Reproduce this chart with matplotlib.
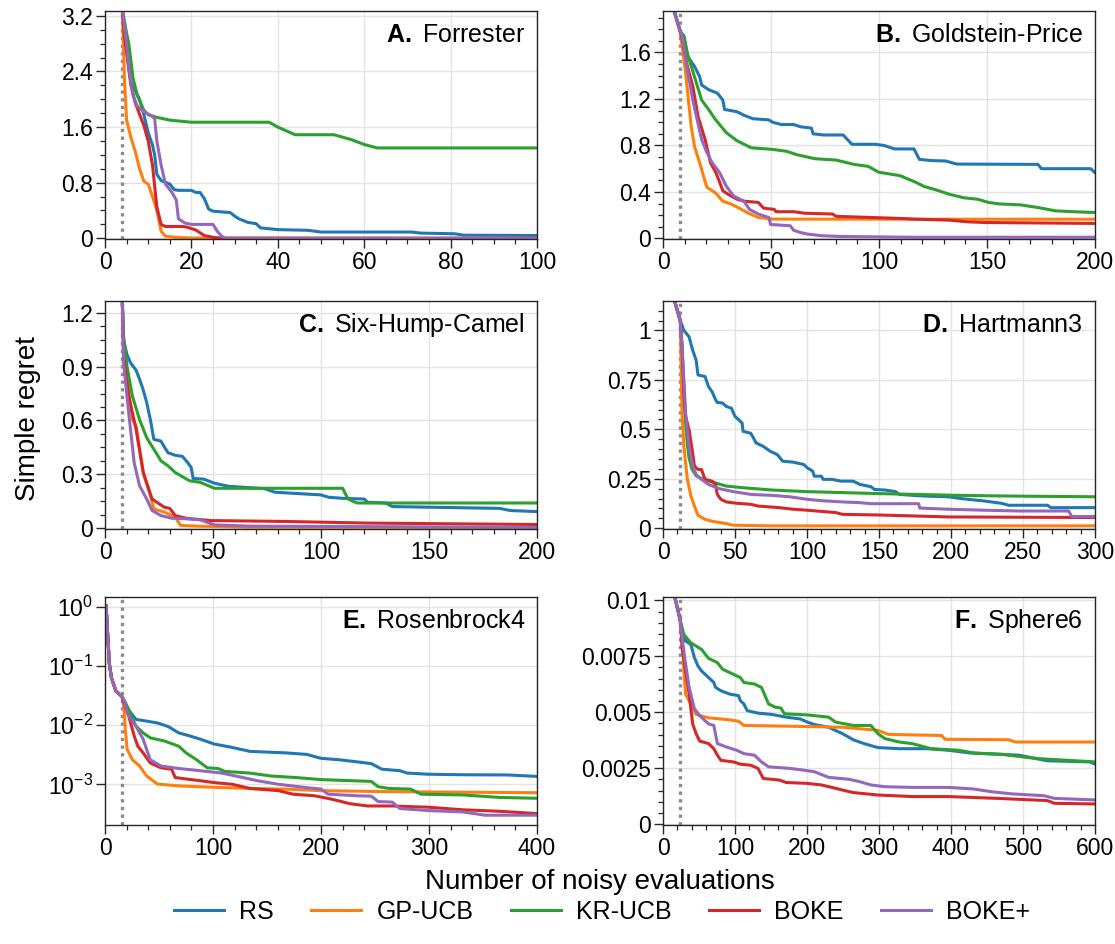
import matplotlib
matplotlib.use('Agg')
import matplotlib.pyplot as plt
from matplotlib.ticker import MultipleLocator, FuncFormatter, NullLocator, FixedLocator

plt.rcParams['font.family'] = ['Liberation Sans', 'DejaVu Sans']
plt.rcParams['mathtext.fontset'] = 'custom'
plt.rcParams['mathtext.rm'] = 'Liberation Sans'
plt.rcParams['mathtext.it'] = 'Liberation Sans:italic'
plt.rcParams['mathtext.bf'] = 'Liberation Sans:bold'

# ---------------- data ----------------
methods = ['RS', 'GP-UCB', 'KR-UCB', 'BOKE', 'BOKE+']
colors = ['#1f77b4', '#ff7f0e', '#2ca02c', '#d62728', '#9467bd']

# A. Forrester
A_RS_x = [1, 4, 4.5, 6, 8, 9, 10, 11, 11.5, 12, 13, 15, 16, 17, 20, 21, 22, 23, 24, 25, 29, 30, 31, 33, 35, 36, 40, 47, 50, 71, 73, 81, 83, 100]
A_RS_y = [6.0, 3.3, 2.95, 2.25, 2.0, 1.78, 1.52, 1.34, 1.2, 0.92, 0.83, 0.78, 0.70, 0.69, 0.69, 0.66, 0.66, 0.57, 0.42, 0.39, 0.37, 0.32, 0.28, 0.23, 0.21, 0.15, 0.125, 0.115, 0.09, 0.09, 0.075, 0.065, 0.045, 0.04]
A_GP_x = [1, 4, 4.5, 5, 6, 7, 8, 9, 10, 11, 12, 13, 14, 16, 20, 100]
A_GP_y = [6.0, 3.3, 2.3, 1.7, 1.45, 1.25, 1.0, 0.82, 0.78, 0.6, 0.4, 0.1, 0.03, 0.015, 0.005, 0.0]
A_KR_x = [1, 4, 5, 5.5, 6.5, 7.5, 9, 10, 12, 15, 20, 38, 40, 44, 53, 57, 60, 63, 100]
A_KR_y = [6.0, 3.3, 2.95, 2.8, 2.3, 2.05, 1.84, 1.78, 1.74, 1.70, 1.67, 1.67, 1.6, 1.49, 1.49, 1.42, 1.35, 1.30, 1.30]
A_BK_x = [1, 4, 4.5, 6, 7, 9, 10, 11, 11.5, 12, 13, 14, 18, 19, 21, 23, 25, 27, 100]
A_BK_y = [6.0, 3.3, 2.9, 2.2, 1.95, 1.62, 1.4, 1.05, 0.75, 0.45, 0.2, 0.17, 0.17, 0.16, 0.12, 0.04, 0.015, 0.0, 0.0]
A_BP_x = [1, 4, 5, 5.5, 6.5, 7.5, 9, 11, 11.5, 12, 13, 14, 15.5, 16.5, 17, 18.5, 20, 25, 26, 27, 28, 100]
A_BP_y = [6.0, 3.3, 2.8, 2.45, 2.05, 1.9, 1.82, 1.75, 1.72, 1.4, 1.05, 0.78, 0.66, 0.55, 0.28, 0.22, 0.2, 0.2, 0.1, 0.03, 0.0, 0.0]

# B. Goldstein-Price
B_RS_x = [1, 4, 8, 9.7, 11.3, 14.6, 17, 17.9, 21.1, 25.2, 27.7, 28.5, 34.3, 37.5, 41.6, 49, 50.7, 54.8, 60.5, 63.8, 68.7, 69.5, 74.4, 83.4, 87.5, 98.2, 102.3, 107.2, 116.2, 118.7, 124.4, 131, 135.9, 173.6, 175.2, 198, 200]
B_RS_y = [2.2, 2.03, 1.78, 1.74, 1.57, 1.48, 1.39, 1.32, 1.28, 1.25, 1.19, 1.11, 1.09, 1.06, 1.03, 1.02, 1.0, 0.98, 0.98, 0.96, 0.95, 0.90, 0.89, 0.89, 0.81, 0.81, 0.80, 0.77, 0.77, 0.68, 0.67, 0.666, 0.64, 0.637, 0.60, 0.60, 0.566]
B_GP_x = [1, 4, 8, 8.9, 10.5, 13, 14.6, 17, 18.7, 20.3, 22, 24.4, 27.7, 31, 34.3, 39.2, 44.1, 50.7, 200]
B_GP_y = [2.2, 2.03, 1.78, 1.65, 1.42, 0.97, 0.79, 0.65, 0.54, 0.44, 0.42, 0.39, 0.32, 0.30, 0.27, 0.22, 0.18, 0.166, 0.165]
B_KR_x = [1, 4, 8, 9.7, 11.3, 14.6, 17.9, 21.1, 24.4, 29.3, 34.3, 40.8, 50.7, 57.2, 62.1, 70.3, 80.2, 88.4, 95, 99.8, 109.7, 116.2, 121.1, 126, 132.6, 139.2, 145.7, 150.6, 155.6, 165.4, 173.6, 181.8, 190, 200]
B_KR_y = [2.2, 2.03, 1.78, 1.74, 1.59, 1.39, 1.19, 1.11, 1.02, 0.91, 0.84, 0.78, 0.766, 0.75, 0.72, 0.686, 0.674, 0.637, 0.62, 0.57, 0.54, 0.49, 0.446, 0.42, 0.38, 0.35, 0.337, 0.31, 0.297, 0.289, 0.266, 0.237, 0.23, 0.223]
B_BK_x = [1, 4, 8, 8.9, 11.3, 13.8, 16.2, 19.5, 22, 24.4, 26.1, 27.7, 31, 34.3, 37.5, 44.1, 46.6, 51.5, 52.3, 60.5, 65.4, 78.5, 80.2, 96.6, 111.3, 116, 132.6, 141, 149, 200]
B_BK_y = [2.2, 2.03, 1.78, 1.71, 1.48, 1.31, 1.05, 0.85, 0.65, 0.57, 0.49, 0.41, 0.37, 0.337, 0.32, 0.31, 0.26, 0.25, 0.23, 0.23, 0.217, 0.21, 0.19, 0.18, 0.171, 0.166, 0.157, 0.143, 0.137, 0.129]
B_BP_x = [1, 4, 8, 8.9, 11.3, 13.8, 16.2, 17.9, 20.3, 22.8, 26.1, 29.3, 32.6, 37.5, 40, 44.1, 49, 49.8, 58.9, 60.5, 63.8, 67, 73.6, 81.8, 116, 200]
B_BP_y = [2.2, 2.03, 1.78, 1.74, 1.45, 1.19, 0.99, 0.85, 0.74, 0.65, 0.57, 0.45, 0.366, 0.32, 0.25, 0.21, 0.18, 0.12, 0.109, 0.07, 0.05, 0.037, 0.023, 0.017, 0.01, 0.01]

# C. Six-Hump-Camel
C_RS_x = [1, 8, 8.6, 10.2, 11.9, 14.4, 16, 17.7, 19.3, 21, 22.6, 25.9, 27.6, 29.2, 32.5, 35.8, 38.3, 39.9, 40.8, 45.7, 50.7, 57.3, 73.8, 78.7, 100, 103.5, 110, 120, 121.6, 130, 133, 182.7, 187.6, 200]
C_RS_y = [2.5, 1.27, 1.05, 0.965, 0.92, 0.88, 0.83, 0.77, 0.70, 0.605, 0.495, 0.485, 0.45, 0.42, 0.406, 0.40, 0.365, 0.338, 0.277, 0.273, 0.25, 0.233, 0.22, 0.20, 0.185, 0.172, 0.166, 0.162, 0.144, 0.14, 0.12, 0.11, 0.098, 0.092]
C_GP_x = [1, 8, 8.6, 10.2, 12.7, 14.4, 17.7, 21, 22.6, 27.6, 32.5, 35, 42.4, 67, 200]
C_GP_y = [2.5, 1.27, 1.01, 0.83, 0.605, 0.57, 0.31, 0.18, 0.107, 0.089, 0.061, 0.015, 0.011, 0.005, 0.003]
C_KR_x = [1, 8, 8.6, 10.2, 12.7, 16, 19.3, 22.6, 25.9, 29.2, 32.5, 39.1, 44.1, 50.7, 110, 112.5, 116.7, 200]
C_KR_y = [2.5, 1.27, 1.07, 0.90, 0.735, 0.605, 0.504, 0.44, 0.375, 0.347, 0.31, 0.264, 0.255, 0.222, 0.222, 0.162, 0.14, 0.14]
C_BK_x = [1, 8, 8.6, 11, 14.4, 17.7, 21.8, 25.1, 27.6, 30, 32.5, 37.5, 49, 83.7, 121.6, 200]
C_BK_y = [2.5, 1.27, 0.956, 0.735, 0.55, 0.31, 0.162, 0.135, 0.116, 0.11, 0.07, 0.055, 0.042, 0.037, 0.028, 0.02]
C_BP_x = [1, 8, 8.6, 11, 13.5, 16, 19.3, 21.8, 25.9, 30.9, 37.5, 44, 50.7, 67, 200]
C_BP_y = [2.5, 1.27, 0.92, 0.64, 0.365, 0.236, 0.162, 0.098, 0.07, 0.055, 0.052, 0.046, 0.018, 0.011, 0.004]

# D. Hartmann3
D_RS_x = [1, 8, 12, 14.5, 18.1, 20.6, 23, 24.3, 29.2, 31.6, 34.1, 36.5, 37.7, 41.4, 43.9, 47.5, 50, 52.5, 54.9, 55.6, 61, 64.7, 69.6, 74.5, 79.4, 83.1, 90.4, 97.8, 100.2, 103.9, 105.1, 110, 111.3, 117.4, 123.5, 132, 137, 144.4, 146.8, 154.2, 161.5, 164, 173.8, 181, 198.3, 208, 222.8, 235, 240, 267, 269.4, 300]
D_RS_y = [1.33, 1.15, 1.05, 1.0, 0.968, 0.90, 0.85, 0.775, 0.767, 0.716, 0.69, 0.65, 0.636, 0.633, 0.616, 0.607, 0.565, 0.549, 0.532, 0.49, 0.48, 0.431, 0.414, 0.389, 0.372, 0.339, 0.334, 0.322, 0.305, 0.289, 0.263, 0.263, 0.247, 0.247, 0.238, 0.238, 0.221, 0.21, 0.196, 0.193, 0.185, 0.171, 0.166, 0.163, 0.159, 0.149, 0.138, 0.126, 0.116, 0.116, 0.104, 0.104]
D_GP_x = [1, 8, 12, 13.2, 14.5, 16.9, 19.4, 21.8, 24.3, 29.2, 34.1, 43.9, 48.8, 75.7, 300]
D_GP_y = [1.33, 1.15, 1.05, 0.58, 0.414, 0.247, 0.163, 0.112, 0.065, 0.045, 0.035, 0.0235, 0.015, 0.012, 0.012]
D_KR_x = [1, 8, 12, 13, 14, 15, 16, 17, 18, 20, 23, 27, 32, 44, 55, 76, 100, 125, 150, 175, 200, 225, 250, 300]
D_KR_y = [1.33, 1.15, 1.05, 0.95, 0.8, 0.62, 0.5, 0.42, 0.36, 0.3, 0.265, 0.25, 0.238, 0.213, 0.205, 0.193, 0.185, 0.18, 0.175, 0.171, 0.167, 0.164, 0.162, 0.159]
D_BK_x = [1, 8, 12, 13.2, 14.5, 15.7, 18.1, 20.6, 21.8, 24.3, 26.7, 29.2, 34.1, 36.5, 37.7, 40.2, 43.9, 51.2, 61, 65.9, 80.6, 90.4, 100.2, 119.9, 124.8, 149, 173.8, 198, 300]
D_BK_y = [1.33, 1.15, 1.05, 0.918, 0.683, 0.565, 0.498, 0.38, 0.314, 0.297, 0.297, 0.247, 0.238, 0.221, 0.171, 0.146, 0.133, 0.126, 0.121, 0.112, 0.104, 0.096, 0.091, 0.079, 0.07, 0.067, 0.062, 0.057, 0.054]
D_BP_x = [1, 8, 12, 13.2, 14.5, 15.7, 18.1, 20.6, 23, 26.7, 31.6, 39, 48.8, 61, 75.7, 88, 100.2, 112.5, 124.8, 137, 144.4, 177.5, 178.3, 198, 223, 247.5, 281.6, 284, 300]
D_BP_y = [1.33, 1.15, 1.05, 0.918, 0.75, 0.582, 0.414, 0.314, 0.272, 0.247, 0.221, 0.2, 0.185, 0.171, 0.166, 0.159, 0.146, 0.138, 0.133, 0.129, 0.124, 0.124, 0.102, 0.096, 0.091, 0.087, 0.087, 0.059, 0.059]

# E. Rosenbrock4 (log scale)
E_RS_x = [1, 4, 6, 10, 16, 22, 28.7, 38.6, 48.5, 58.4, 68.3, 78.2, 88.1, 101, 117.8, 134.3, 167.3, 187, 200, 216.8, 233, 246.5, 256.4, 273, 279.5, 299.3, 332, 372, 400]
E_RS_y = [1.05, 0.11, 0.063, 0.038, 0.03, 0.018, 0.0125, 0.0117, 0.0109, 0.0095, 0.0074, 0.0066, 0.0058, 0.0048, 0.0042, 0.0036, 0.0034, 0.0032, 0.00275, 0.0026, 0.0024, 0.00224, 0.0018, 0.0017, 0.00155, 0.00148, 0.00145, 0.00144, 0.00136]
E_GP_x = [1, 4, 6, 10, 16, 17.2, 18.8, 20.5, 25.4, 32, 38.6, 48.5, 68.3, 101, 134.3, 167.3, 200, 266, 400]
E_GP_y = [1.05, 0.11, 0.063, 0.038, 0.03, 0.024, 0.0085, 0.0039, 0.0026, 0.00204, 0.00138, 0.00101, 0.00094, 0.00089, 0.00085, 0.00083, 0.00078, 0.00075, 0.00072]
E_KR_x = [1, 4, 6, 10, 16, 18.8, 22, 28.7, 35.3, 41.9, 55, 68.3, 75, 84.8, 94.7, 104.6, 111, 134, 154, 177, 200, 246.5, 253, 263, 282.8, 292.7, 332, 365, 400]
E_KR_y = [1.05, 0.11, 0.063, 0.038, 0.03, 0.024, 0.018, 0.0096, 0.0074, 0.0061, 0.0054, 0.0044, 0.0034, 0.0026, 0.0019, 0.00185, 0.00165, 0.00155, 0.00138, 0.0013, 0.0012, 0.00112, 0.00091, 0.00085, 0.00083, 0.00068, 0.00066, 0.0006, 0.00058]
E_BK_x = [1, 4, 6, 10, 16, 17.2, 22, 27, 30.4, 35.3, 41.9, 51.8, 61.7, 65, 75, 88, 101, 117.8, 134.3, 160.7, 174, 194, 210, 226.7, 243.2, 266, 299, 332, 365, 400]
E_BK_y = [1.05, 0.11, 0.063, 0.038, 0.03, 0.024, 0.0142, 0.0066, 0.0044, 0.0034, 0.0023, 0.0019, 0.0018, 0.0013, 0.00123, 0.00115, 0.00107, 0.001, 0.00085, 0.00078, 0.00068, 0.00064, 0.00056, 0.00047, 0.00043, 0.00043, 0.00041, 0.00037, 0.00035, 0.00032]
E_BP_x = [1, 4, 6, 10, 16, 17.2, 22, 28.7, 35.3, 41.9, 51.8, 68.3, 88, 108, 127.7, 141, 160.7, 183.8, 200, 206.6, 220, 233, 246.5, 253, 266, 273, 299, 332, 352, 400]
E_BP_y = [1.05, 0.11, 0.063, 0.038, 0.03, 0.027, 0.0142, 0.0096, 0.0058, 0.0026, 0.00204, 0.00185, 0.0017, 0.00155, 0.0013, 0.00115, 0.001, 0.00089, 0.00083, 0.00068, 0.00066, 0.00064, 0.00063, 0.00051, 0.0005, 0.00039, 0.00036, 0.00034, 0.0003, 0.0003]

# F. Sphere6
F_RS_x = [1, 16, 24, 26.5, 31.4, 38.7, 43.6, 48.5, 53.4, 63.2, 70.6, 73, 80.4, 92.6, 104.9, 107.4, 112.3, 117, 131.9, 151.5, 171, 190.7, 200.5, 210.3, 230, 249.5, 264.2, 279, 298.5, 328, 367, 396.6, 426, 494.6, 533.8, 592.6, 600]
F_RS_y = [0.0123, 0.0102, 0.0091, 0.00848, 0.00818, 0.00803, 0.00744, 0.00707, 0.00685, 0.00655, 0.00633, 0.00611, 0.00596, 0.00581, 0.00574, 0.00552, 0.00537, 0.00507, 0.00496, 0.0049, 0.00478, 0.0047, 0.00456, 0.00445, 0.00433, 0.00404, 0.00377, 0.0036, 0.00342, 0.00337, 0.00337, 0.0033, 0.00318, 0.00308, 0.00283, 0.00278, 0.00268]
F_GP_x = [1, 16, 24, 26.5, 28.9, 31.4, 38.7, 46, 63.2, 92.6, 104.9, 112.3, 200.5, 249.5, 298.5, 313, 387, 391.7, 480, 489.7, 600]
F_GP_y = [0.0123, 0.0102, 0.0091, 0.00833, 0.00685, 0.00581, 0.00537, 0.0049, 0.00475, 0.00466, 0.0046, 0.00441, 0.00436, 0.00433, 0.00419, 0.00401, 0.00396, 0.00379, 0.00377, 0.00367, 0.00367]
F_KR_x = [1, 16, 24, 28.9, 38.7, 53.4, 63.2, 75.5, 82.8, 97.5, 107.4, 112.3, 127, 136.8, 146.6, 156.4, 163.7, 168.6, 200.5, 230, 239.7, 264.2, 288.7, 298.5, 308.3, 328, 347.5, 372, 411, 431, 470, 519, 600]
F_KR_y = [0.0123, 0.0102, 0.0091, 0.00848, 0.0081, 0.00781, 0.00741, 0.00722, 0.00692, 0.0067, 0.00655, 0.00633, 0.00626, 0.00611, 0.00537, 0.00522, 0.00519, 0.00493, 0.00488, 0.00478, 0.00456, 0.00441, 0.00441, 0.00404, 0.00382, 0.00367, 0.00359, 0.00337, 0.0033, 0.00318, 0.00312, 0.00293, 0.00278]
F_BK_x = [1, 16, 24, 26.5, 31.4, 36.3, 41.2, 46, 51, 63.2, 70.6, 75.5, 80.4, 97.5, 107.4, 122, 131.9, 139.2, 161.3, 171, 200.5, 220, 239.7, 249.5, 264.2, 298.5, 347.5, 396.6, 465, 533.8, 543.6, 600]
F_BK_y = [0.0123, 0.0102, 0.0091, 0.00789, 0.00685, 0.00581, 0.00448, 0.00404, 0.00371, 0.0036, 0.00337, 0.00308, 0.00285, 0.00278, 0.00268, 0.00263, 0.00249, 0.00204, 0.00197, 0.00186, 0.00182, 0.00175, 0.0016, 0.00152, 0.00141, 0.0013, 0.00123, 0.00123, 0.00115, 0.00105, 0.00093, 0.0009]
F_BP_x = [1, 16, 24, 26.5, 31.4, 36.3, 43.6, 51, 63.2, 70.6, 75.5, 87.7, 102.5, 112.3, 127, 136.8, 146.6, 176, 195.6, 210.3, 230, 259, 274, 288.7, 308.3, 347.5, 396.6, 431, 455.4, 485, 529, 543.6, 600]
F_BP_y = [0.0123, 0.0102, 0.0091, 0.00833, 0.00715, 0.00611, 0.00515, 0.00485, 0.00448, 0.00441, 0.0036, 0.00345, 0.0033, 0.00315, 0.00308, 0.00278, 0.00256, 0.00249, 0.00241, 0.00234, 0.00209, 0.002, 0.00189, 0.00175, 0.00167, 0.00164, 0.00164, 0.00157, 0.00145, 0.00135, 0.00127, 0.00115, 0.00108]

letters = ['A.', 'B.', 'C.', 'D.', 'E.', 'F.']
names = ['Forrester', 'Goldstein-Price', 'Six-Hump-Camel', 'Hartmann3', 'Rosenbrock4', 'Sphere6']
init_design = [4, 8, 8, 12, 16, 24]
xmax = [100, 200, 200, 300, 400, 600]
xmajor = [20, 50, 50, 50, 100, 100]
xminor = [5, 10, 10, 10, 20, 20]
ylims = [(-0.01, 3.27), (-0.005, 1.957), (-0.005, 1.266), (-0.004, 1.149), (2.05e-4, 1.47), (-0.00004, 0.01015)]
ymajor = [0.8, 0.4, 0.3, 0.25, None, 0.0025]
yminor = [0.2, 0.1, 0.075, 0.05, None, 0.0005]

series = [
    [(A_RS_x, A_RS_y), (A_GP_x, A_GP_y), (A_KR_x, A_KR_y), (A_BK_x, A_BK_y), (A_BP_x, A_BP_y)],
    [(B_RS_x, B_RS_y), (B_GP_x, B_GP_y), (B_KR_x, B_KR_y), (B_BK_x, B_BK_y), (B_BP_x, B_BP_y)],
    [(C_RS_x, C_RS_y), (C_GP_x, C_GP_y), (C_KR_x, C_KR_y), (C_BK_x, C_BK_y), (C_BP_x, C_BP_y)],
    [(D_RS_x, D_RS_y), (D_GP_x, D_GP_y), (D_KR_x, D_KR_y), (D_BK_x, D_BK_y), (D_BP_x, D_BP_y)],
    [(E_RS_x, E_RS_y), (E_GP_x, E_GP_y), (E_KR_x, E_KR_y), (E_BK_x, E_BK_y), (E_BP_x, E_BP_y)],
    [(F_RS_x, F_RS_y), (F_GP_x, F_GP_y), (F_KR_x, F_KR_y), (F_BK_x, F_BK_y), (F_BP_x, F_BP_y)],
]

# ---------------- figure ----------------
W, H = 1115, 944
fig = plt.figure(figsize=(W / 100, H / 100), dpi=100)
lefts = [105, 663]
tops = [11, 301, 597]
aw, ah = 432, 228
spine_c = '#262626'

fmt = FuncFormatter(lambda v, p: '%g' % round(v, 8))

handles = []
for i in range(6):
    r, c = divmod(i, 2)
    ax = fig.add_axes([lefts[c] / W, 1 - (tops[r] + ah) / H, aw / W, ah / H])
    for k, (xs, ys) in enumerate(series[i]):
        ln, = ax.plot(xs, ys, color=colors[k], lw=2.2, label=methods[k], zorder=2 + 0.1 * k,
                      solid_joinstyle='round')
        if i == 0:
            handles.append(ln)
    ax.axvline(init_design[i], color='#8c8c8c', ls=(0, (1, 1.3)), lw=2.4, zorder=1.5)
    ax.set_xlim(0, xmax[i])
    ax.xaxis.set_major_locator(MultipleLocator(xmajor[i]))
    ax.xaxis.set_minor_locator(MultipleLocator(xminor[i]))
    if i == 4:
        ax.set_yscale('log')
        ax.set_ylim(*ylims[i])
        ax.yaxis.set_major_locator(FixedLocator([1e-3, 1e-2, 1e-1, 1e0]))
        ax.yaxis.set_minor_locator(NullLocator())
    else:
        ax.set_ylim(*ylims[i])
        ax.yaxis.set_major_locator(MultipleLocator(ymajor[i]))
        ax.yaxis.set_minor_locator(MultipleLocator(yminor[i]))
        ax.yaxis.set_major_formatter(fmt)
    ax.grid(True, which='major', color='#e3e3e3', lw=1.0, zorder=0)
    ax.set_axisbelow(True)
    for s in ax.spines.values():
        s.set_color(spine_c)
        s.set_linewidth(1.0)
    ax.tick_params(which='major', direction='out', length=6.5, width=1.0, color=spine_c,
                   labelsize=16.5, pad=2, labelcolor='black')
    ax.tick_params(which='minor', direction='out', length=3.5, width=0.9, color=spine_c)
    ax.text(0.972, 0.862, r'$\mathbf{%s}$ %s' % (letters[i], names[i]), transform=ax.transAxes,
            ha='right', va='baseline', fontsize=18)

fig.text(0.025, 1 - 418.5 / H, 'Simple regret', rotation=90, ha='center', va='center', fontsize=20)
fig.text(599.5 / W, 1 - 882 / H, 'Number of noisy evaluations', ha='center', va='center', fontsize=20)
fig.legend(handles=handles, labels=methods, loc='center', bbox_to_anchor=(602 / W, 1 - 912 / H),
           ncol=5, frameon=False, fontsize=18, handlelength=2.0, handletextpad=0.6,
           columnspacing=1.5)

fig.savefig('out.png', dpi=100)
